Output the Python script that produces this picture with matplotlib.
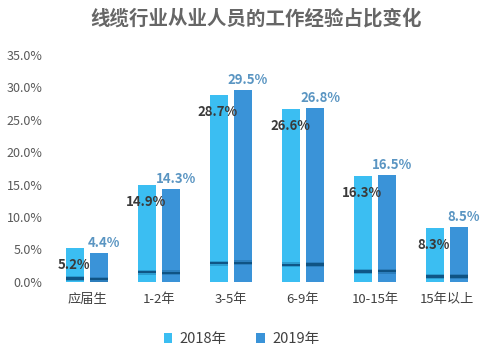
import matplotlib.pyplot as plt
import numpy as np

plt.rcParams['font.family'] = ['Noto Sans CJK SC', 'DejaVu Sans']

# Data
categories = ['应届生', '1-2年', '3-5年', '6-9年', '10-15年', '15年以上']
share_2018 = [5.2, 14.9, 28.7, 26.6, 16.3, 8.3]
share_2019 = [4.4, 14.3, 29.5, 26.8, 16.5, 8.5]
series_names = ['2018年', '2019年']

c2018 = '#3BBEF2'
c2019 = '#3A93D8'
band_dark = '#0C4F7E'
gray = '#595959'

fig = plt.figure(figsize=(4.83, 3.54), dpi=100)
ax = fig.add_axes([0.1056, 0.2034, 0.8944, 0.6426])

x = np.arange(len(categories))
w = 18 / 72   # bar width relative to category spacing
off = 12 / 72

b1 = ax.bar(x - off, share_2018, width=w, color=c2018, label=series_names[0], zorder=2)
b2 = ax.bar(x + off, share_2019, width=w, color=c2019, label=series_names[1], zorder=2)

# darker band near the bottom of each bar
for xs, vals in ((x - off, share_2018), (x + off, share_2019)):
    for xi, v in zip(xs, vals):
        h = v * 0.1
        ax.bar(xi, 0.8, bottom=h - 0.4, width=w, color=band_dark, alpha=0.3, zorder=3, linewidth=0)
        ax.bar(xi, 0.35, bottom=h - 0.175, width=w, color=band_dark, alpha=0.9, zorder=4, linewidth=0)

# value labels
for xi, v in zip(x - off, share_2018):
    ax.annotate(f'{v:.1f}%', (xi, v), xytext=(-1, -17), textcoords='offset pixels',
                ha='center', va='center', fontsize=9.5, fontweight='bold',
                color='#3A3A3A', zorder=5)
for xi, v in zip(x + off, share_2019):
    ax.annotate(f'{v:.1f}%', (xi, v), xytext=(5, 10), textcoords='offset pixels',
                ha='center', va='center', fontsize=9.5, fontweight='bold',
                color='#5A95C2', zorder=5)

ax.set_xlim(-0.5, len(categories) - 0.5)
ax.set_ylim(0, 35)
ax.set_yticks(np.arange(0, 36, 5))
ax.set_yticklabels([f'{t:.1f}%' for t in np.arange(0, 36, 5)], fontsize=9, color=gray)
ax.set_xticks(x)
ax.set_xticklabels(categories, fontsize=9.5, color='#404040')
ax.tick_params(length=0, pad=6)
ax.tick_params(axis='x', pad=8)
for s in ax.spines.values():
    s.set_visible(False)

fig.suptitle('线缆行业从业人员的工作经验占比变化', x=0.53, y=0.975, fontsize=14,
             fontweight='bold', color='#666666')

fig.legend(handles=[b1, b2], loc='center', bbox_to_anchor=(0.5, 0.042), ncol=2,
           frameon=False, fontsize=10.5, handlelength=0.6, handleheight=0.6,
           handletextpad=0.5, columnspacing=2.0, labelcolor='#404040')

fig.savefig('out.png', dpi=100)
